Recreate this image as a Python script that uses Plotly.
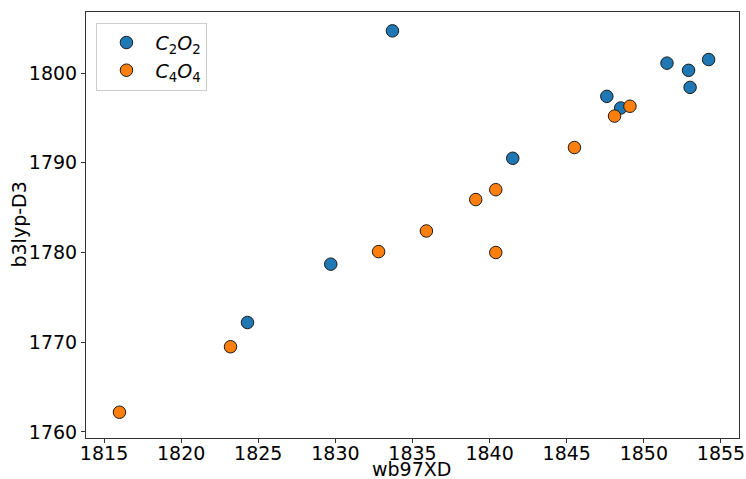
import plotly.graph_objects as go

# C2O2 frequencies: wb97XD (x) vs b3lyp-D3 (y)
c2o2_wb97xd = [1824.3, 1829.7, 1833.7, 1841.5, 1847.6, 1848.5, 1851.5, 1852.9, 1853.0, 1854.2]
c2o2_b3lyp = [1772.2, 1778.7, 1804.7, 1790.5, 1797.4, 1796.1, 1801.1, 1800.3, 1798.4, 1801.5]

# C4O4 frequencies
c4o4_wb97xd = [1816.0, 1823.2, 1832.8, 1835.9, 1839.1, 1840.4, 1840.4, 1845.5, 1848.1, 1849.1]
c4o4_b3lyp = [1762.2, 1769.5, 1780.1, 1782.4, 1785.9, 1787.0, 1780.0, 1791.7, 1795.2, 1796.3]

x_ticks = [1815, 1820, 1825, 1830, 1835, 1840, 1845, 1850, 1855]
y_ticks = [1760, 1770, 1780, 1790, 1800]

FONT = "DejaVu Sans"
FS = 19
marker_line = dict(color="#1a1a1a", width=1)

fig = go.Figure()
fig.add_trace(go.Scatter(
    x=c2o2_wb97xd, y=c2o2_b3lyp, mode="markers",
    name="<i>C</i><sub>2</sub><i>O</i><sub>2</sub>",
    marker=dict(color="#1f77b4", size=12.5, line=marker_line),
))
fig.add_trace(go.Scatter(
    x=c4o4_wb97xd, y=c4o4_b3lyp, mode="markers",
    name="<i>C</i><sub>4</sub><i>O</i><sub>4</sub>",
    marker=dict(color="#ff7f0e", size=12.5, line=marker_line),
))

axis_common = dict(
    showgrid=False, zeroline=False, showline=True, linecolor="#333333",
    linewidth=1, mirror=True, ticks="outside", ticklen=4, tickwidth=1,
    tickcolor="#333333", tickfont=dict(family=FONT, size=FS, color="black"),
    automargin=False,
)

fig.update_layout(
    width=746, height=479,
    margin=dict(l=86, r=7, t=12, b=41),
    paper_bgcolor="white", plot_bgcolor="white",
    font=dict(family=FONT, size=FS, color="black"),
    xaxis=dict(range=[1813.83, 1856.17], tickvals=x_ticks,
               ticklabelstandoff=-6, **axis_common),
    yaxis=dict(range=[1759.33, 1806.8], tickvals=y_ticks, **axis_common),
    legend=dict(
        x=0.016, y=0.975, xanchor="left", yanchor="top",
        bgcolor="rgba(255,255,255,0.8)", bordercolor="#cccccc", borderwidth=1,
        font=dict(family=FONT, size=FS),
        itemwidth=48,
    ),
    annotations=[
        # axis titles
        dict(text="wb97XD", xref="paper", yref="paper", x=0.499, y=-0.073,
             xanchor="center", yanchor="middle", showarrow=False,
             font=dict(family=FONT, size=FS)),
        dict(text="b3lyp-D3", xref="paper", yref="paper", x=-0.102, y=0.502,
             xanchor="center", yanchor="middle", showarrow=False, textangle=-90,
             font=dict(family=FONT, size=FS)),
    ],
)

fig.write_html("out.html")
